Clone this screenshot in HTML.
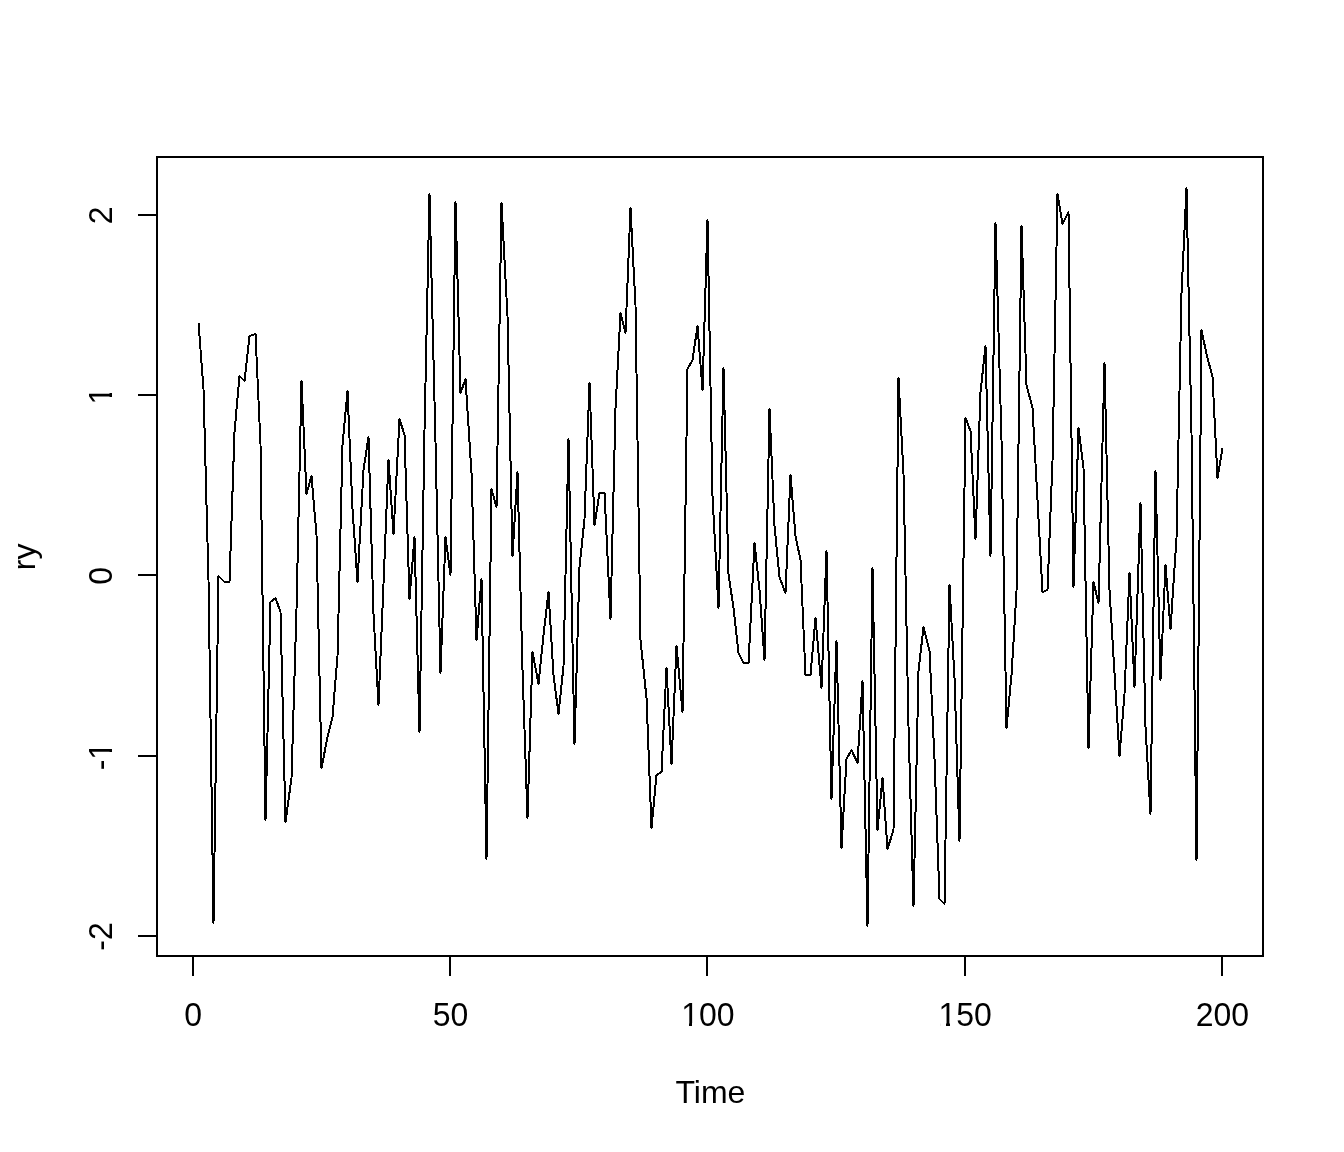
<!DOCTYPE html>
<html><head><meta charset="utf-8"><style>
html,body{margin:0;padding:0;background:#fff;}
svg{display:block;}
text{font-family:"Liberation Sans", Arial, sans-serif;font-size:32px;fill:#000;}
</style></head><body>
<svg width="1344" height="1152" viewBox="0 0 1344 1152">
<rect x="0" y="0" width="1344" height="1152" fill="#fff"/>
<g stroke="#000" stroke-width="2" fill="none" shape-rendering="crispEdges">
<rect x="157" y="157" width="1106" height="799"/>
<path d="M193 957V976M450 957V976M707 957V976M965 957V976M1222 957V976"/>
<path d="M138 215H157M138 395H157M138 575H157M138 756H157M138 936H157"/>
</g>
<polyline fill="none" stroke="#000" stroke-width="2" stroke-linejoin="round" shape-rendering="crispEdges" points="198.5,323 203.5,389 208.5,580 213.5,923 218.5,576 224.5,582 229.5,582 234.5,432 239.5,376 244.5,381 249.5,336 255.5,334 260.5,444 265.5,820 270.5,602 275.5,598 280.5,612 285.5,822 291.5,778 296.5,609 301.5,381 306.5,494 311.5,476 316.5,535 321.5,768 327.5,737 332.5,717 337.5,656 342.5,445 347.5,391 352.5,509 357.5,582 363.5,470 368.5,437 373.5,614 378.5,705 383.5,584 388.5,460 393.5,534 399.5,419 404.5,435 409.5,599 414.5,537 419.5,732 424.5,430 429.5,194 435.5,442 440.5,673 445.5,537 450.5,575 455.5,202 460.5,393 465.5,379 471.5,473 476.5,640 481.5,579 486.5,859 491.5,489 496.5,507 501.5,203 507.5,316 512.5,556 517.5,472 522.5,670 527.5,818 532.5,652 538.5,684 543.5,635 548.5,592 553.5,675 558.5,714 563.5,666 568.5,439 574.5,744 579.5,567 584.5,519 589.5,383 594.5,525 599.5,493 604.5,493 610.5,619 615.5,408 620.5,313 625.5,333 630.5,208 635.5,305 640.5,640 646.5,698 651.5,828 656.5,775 661.5,772 666.5,668 671.5,764 676.5,646 682.5,712 687.5,369 692.5,360 697.5,326 702.5,390 707.5,220 712.5,496 718.5,608 723.5,368 728.5,574 733.5,608 738.5,653 743.5,663 748.5,663 754.5,543 759.5,590 764.5,660 769.5,409 774.5,526 779.5,577 785.5,593 790.5,475 795.5,536 800.5,560 805.5,675 810.5,675 815.5,618 821.5,688 826.5,551 831.5,799 836.5,641 841.5,848 846.5,759 851.5,750 857.5,763 862.5,681 867.5,926 872.5,568 877.5,830 882.5,778 887.5,849 893.5,830 898.5,378 903.5,474 908.5,726 913.5,906 918.5,671 923.5,627 929.5,651 934.5,759 939.5,899 944.5,904 949.5,585 954.5,678 959.5,841 965.5,418 970.5,431 975.5,539 980.5,392 985.5,346 990.5,556 995.5,223 1001.5,440 1006.5,728 1011.5,675 1016.5,592 1021.5,226 1026.5,385 1032.5,408 1037.5,500 1042.5,592 1047.5,590 1052.5,461 1057.5,194 1062.5,224 1068.5,212 1073.5,587 1078.5,428 1083.5,468 1088.5,748 1093.5,582 1098.5,603 1104.5,363 1109.5,590 1114.5,673 1119.5,756 1124.5,694 1129.5,573 1134.5,687 1140.5,503 1145.5,727 1150.5,814 1155.5,471 1160.5,680 1165.5,565 1170.5,629 1176.5,538 1181.5,293 1186.5,188 1191.5,433 1196.5,860 1201.5,330 1206.5,354 1212.5,377 1217.5,478 1222.5,448"/>
<g text-anchor="middle">
<text transform="translate(193.25,1026) scale(1,1.045)">0</text>
<text transform="translate(450.54,1026) scale(1,1.045)">50</text>
<text transform="translate(707.83,1026) scale(1,1.045)">100</text>
<text transform="translate(965.11,1026) scale(1,1.045)">150</text>
<text transform="translate(1222.4,1026) scale(1,1.045)">200</text>
<text x="710.4" y="1103">Time</text>
<text transform="translate(112,215.25) rotate(-90) scale(1,1.045)">2</text>
<text transform="translate(112,395.55) rotate(-90) scale(1,1.045)">1</text>
<text transform="translate(112,575.85) rotate(-90) scale(1,1.045)">0</text>
<text transform="translate(112,756.15) rotate(-90) scale(1,1.045)">-1</text>
<text transform="translate(112,936.45) rotate(-90) scale(1,1.045)">-2</text>
<text transform="translate(35,556.8) rotate(-90)">ry</text>
</g>
<g fill="#fff" shape-rendering="crispEdges">
<rect x="683" y="1023" width="6" height="3"/><rect x="692" y="1023" width="6" height="3"/>
<rect x="941" y="1023" width="5" height="3"/><rect x="950" y="1023" width="5" height="3"/>
<rect x="109" y="388" width="3" height="5"/><rect x="109" y="397" width="3" height="5"/>
<rect x="109" y="743" width="3" height="6"/><rect x="109" y="752" width="3" height="6"/>
</g>
</svg>
</body></html>
